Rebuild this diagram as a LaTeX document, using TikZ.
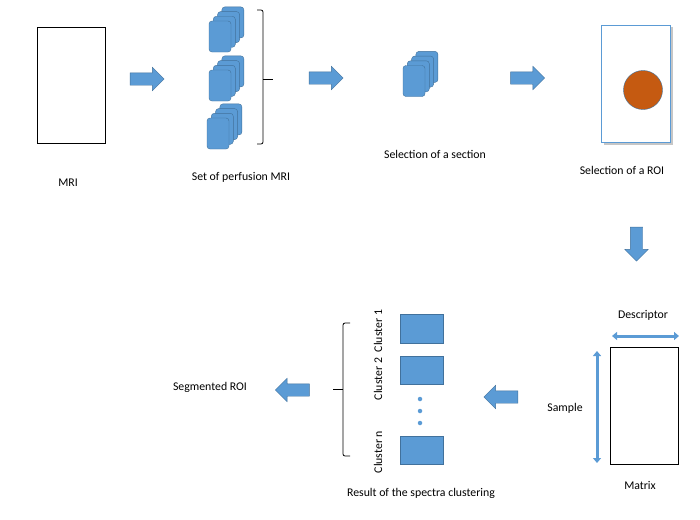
\documentclass[tikz,border=0pt]{standalone}
\usepackage{fontspec}
\setmainfont{Carlito}
\usetikzlibrary{shapes.arrows,shadows,arrows.meta}
\definecolor{cardblue}{HTML}{5B9BD5}
\definecolor{cardedge}{HTML}{41719C}
\definecolor{roiorange}{HTML}{C55A11}
\tikzset{
  card/.style={rectangle, rounded corners=3pt, fill=cardblue, draw=cardedge, minimum width=22pt, minimum height=31pt, inner sep=0pt},
  blockarrow/.style={single arrow, fill=cardblue, draw=cardedge, minimum height=34pt, inner sep=6pt, single arrow head extend=5.5pt},
  clusterbox/.style={rectangle, fill=cardblue, draw=cardedge, minimum width=43pt, minimum height=28.5pt, inner sep=0pt},
  dot/.style={circle, fill=cardblue, inner sep=0pt, minimum size=4.5pt},
  dblarrow/.style={line width=3pt, cardblue, {Triangle[length=5pt,width=8pt]}-{Triangle[length=5pt,width=8pt]}},
  bracket/.style={line width=0.8pt, rounded corners=2pt},
  lbl/.style={font=\fontsize{11.8}{13}\selectfont, inner sep=1pt}
}
\begin{document}
\begin{tikzpicture}[x=1pt, y=-1pt]
  \useasboundingbox (0,0) rectangle (700,519);

  % MRI
  \node[draw, line width=0.8pt, minimum width=68pt, minimum height=116pt, inner sep=0pt] (mri) at (71,85) {};
  \node[lbl] (mrilbl) at (68,183) {MRI};
  \node[blockarrow] (a1) at (144,79) {};

  % Set of perfusion MRI
  \foreach \g/\cx/\cy in {1/220/36.5, 2/220/85.5, 3/218/133.5}
    \foreach \k in {3,2,1,0}
      \node[card] (s\g c\k) at (\cx+\k*4.3, \cy-\k*4.7) {};
  \coordinate (b1) at (257,10);
  \coordinate (b2) at (257,144);
  \draw[bracket] (b1) -- (263,10) -- (263,144) -- (b2);
  \draw[bracket] (263,79) -- (273,79);
  \node[lbl] (setlbl) at (241,177) {Set of perfusion MRI};
  \node[blockarrow] (a2) at (323,78) {};

  % Selection of a section
  \foreach \k in {3,2,1,0}
    \node[card] (sec\k) at (414+\k*4.3, 81-\k*4.7) {};
  \node[lbl] (seclbl) at (435,154) {Selection of a section};
  \node[blockarrow] (a3) at (524.5,78) {};

  % Selection of a ROI
  \node[draw=cardblue, line width=0.8pt, fill=white, minimum width=69pt, minimum height=117pt, inner sep=0pt,
        drop shadow={opacity=0.45, fill=black!50, draw=none, shadow xshift=2.5pt, shadow yshift=-2.5pt}] (roibox) at (635.5,83.5) {};
  \node[circle, fill=roiorange, draw=cardedge, minimum size=39pt, inner sep=0pt] (roi) at (643,90) {};
  \node[lbl] (roilbl) at (622,170) {Selection of a ROI};
  \node[blockarrow, shape border rotate=270] (a4) at (636.5,241) {};

  % Matrix
  \node[draw, line width=0.8pt, minimum width=68pt, minimum height=117pt, inner sep=0pt] (matrix) at (644,405.5) {};
  \coordinate (d1) at (612,336);
  \coordinate (d2) at (679,336);
  \coordinate (m1) at (597,351);
  \coordinate (m2) at (597,463);
  \draw[dblarrow] (d1) -- (d2);
  \draw[dblarrow] (m1) -- (m2);
  \node[lbl] (desclbl) at (643,315) {Descriptor};
  \node[lbl] (samplbl) at (565,408) {Sample};
  \node[lbl] (matlbl) at (640,485) {Matrix};
  \node[blockarrow, shape border rotate=180] (a5) at (504,397) {};

  % Result of the spectra clustering
  \node[clusterbox] (c1) at (421.5,328.5) {};
  \node[clusterbox] (c2) at (421.5,370) {};
  \node[clusterbox] (cn) at (421.5,450) {};
  \foreach \y [count=\i] in {399,411,423}
    \node[dot] (dot\i) at (420,\y) {};
  \node[lbl, rotate=90] (c1lbl) at (378,331) {Cluster 1};
  \node[lbl, rotate=90] (c2lbl) at (378,379) {Cluster 2};
  \node[lbl, rotate=90] (cnlbl) at (378,452) {Cluster n};
  \coordinate (r1) at (350,323);
  \coordinate (r2) at (350,456);
  \draw[bracket] (r1) -- (343,323) -- (343,456) -- (r2);
  \draw[bracket] (343,389) -- (333,389);
  \node[lbl] (reslbl) at (421,493) {Result of the spectra clustering};
  \node[blockarrow, shape border rotate=180] (a6) at (295.5,390) {};

  % Segmented ROI
  \node[lbl] (seglbl) at (210,387) {Segmented ROI};
\end{tikzpicture}
\end{document}
